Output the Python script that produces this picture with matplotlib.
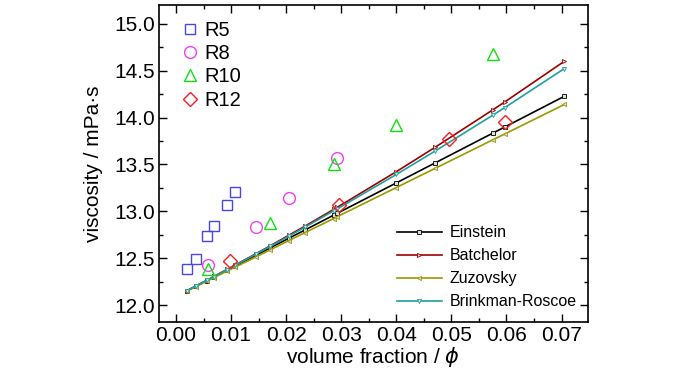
import matplotlib
matplotlib.use("Agg")
import matplotlib.pyplot as plt
from matplotlib.ticker import MultipleLocator

plt.rcParams['font.family'] = ['Liberation Sans', 'DejaVu Sans']
plt.rcParams['mathtext.fontset'] = 'dejavusans'

# Measured data
r5_x = [0.0020, 0.0036, 0.0056, 0.0069, 0.0093, 0.0107]
r5_y = [12.39, 12.49, 12.74, 12.84, 13.07, 13.21]
r8_x = [0.0058, 0.0146, 0.0205, 0.0293]
r8_y = [12.43, 12.83, 13.14, 13.57]
r10_x = [0.0058, 0.0171, 0.0286, 0.0400, 0.0575]
r10_y = [12.39, 12.88, 13.50, 13.92, 14.68]
r12_x = [0.0098, 0.0296, 0.0495, 0.0597]
r12_y = [12.47, 13.07, 13.77, 13.95]

# Model curves
model_x = [0.0020, 0.0036, 0.0056, 0.0069, 0.0093, 0.0107, 0.0146, 0.0171, 0.0205,
           0.0234, 0.0286, 0.0293, 0.0400, 0.0470, 0.0575, 0.0597, 0.0705]
einstein_y = [12.154, 12.203, 12.263, 12.303, 12.375, 12.418, 12.535, 12.611, 12.714,
              12.801, 12.959, 12.980, 13.303, 13.515, 13.833, 13.899, 14.226]
batchelor_y = [12.154, 12.204, 12.265, 12.307, 12.382, 12.427, 12.551, 12.633, 12.746,
               12.842, 13.020, 13.044, 13.423, 13.681, 14.081, 14.166, 14.599]
zuzovsky_y = [12.152, 12.198, 12.256, 12.294, 12.364, 12.404, 12.517, 12.590, 12.689,
              12.773, 12.923, 12.944, 13.254, 13.457, 13.762, 13.825, 14.139]
br_y = [12.154, 12.204, 12.265, 12.306, 12.380, 12.424, 12.547, 12.627, 12.736,
        12.831, 13.005, 13.027, 13.393, 13.641, 14.024, 14.106, 14.521]

xticks = [0.00, 0.01, 0.02, 0.03, 0.04, 0.05, 0.06, 0.07]
yticks = [12.0, 12.5, 13.0, 13.5, 14.0, 14.5, 15.0]

fig = plt.figure(figsize=(7, 3.75), dpi=100)
ax = fig.add_axes([0.227, 0.141, 0.613, 0.846])

lw = 1.2
ms_l = 3.0
h_e, = ax.plot(model_x, einstein_y, color='black', lw=lw, marker='s', ms=ms_l,
               mfc='#dddddd', mec='black', mew=0.6, label='Einstein')
h_b, = ax.plot(model_x, batchelor_y, color='#a00000', lw=lw, marker='>', ms=ms_l,
               mfc='#dddddd', mec='#a00000', mew=0.6, label='Batchelor')
h_z, = ax.plot(model_x, zuzovsky_y, color='#999900', lw=lw, marker='<', ms=ms_l,
               mfc='#dddddd', mec='#999900', mew=0.6, label='Zuzovsky')
h_r, = ax.plot(model_x, br_y, color='#1fa0a0', lw=lw, marker='v', ms=ms_l,
               mfc='#dddddd', mec='#1fa0a0', mew=0.6, label='Brinkman-Roscoe')

ms = 8.5
mew = 1.0
h5, = ax.plot(r5_x, r5_y, ls='none', marker='s', ms=ms - 1, mfc='none', mec='#4848e0', mew=mew, label='R5')
h8, = ax.plot(r8_x, r8_y, ls='none', marker='o', ms=ms, mfc='none', mec='#f040f0', mew=mew, label='R8')
h10, = ax.plot(r10_x, r10_y, ls='none', marker='^', ms=ms + 0.5, mfc='none', mec='#10e010', mew=mew, label='R10')
h12, = ax.plot(r12_x, r12_y, ls='none', marker='D', ms=ms - 1, mfc='none', mec='#f02020', mew=mew, label='R12')

ax.set_xlim(-0.0031, 0.0748)
ax.set_ylim(11.82, 15.2)
ax.set_xticks(xticks)
ax.set_yticks(yticks)
ax.set_xticklabels([f"{v:.2f}" for v in xticks])
ax.set_yticklabels([f"{v:.1f}" for v in yticks])
ax.xaxis.set_minor_locator(MultipleLocator(0.005))
ax.yaxis.set_minor_locator(MultipleLocator(0.25))
ax.tick_params(which='both', direction='in', top=True, right=True, width=1.0)
ax.tick_params(which='major', length=6, labelsize=15, pad=3)
ax.tick_params(which='minor', length=3)
for s in ax.spines.values():
    s.set_linewidth(1.2)

ax.set_xlabel(r'volume fraction / $\phi$', fontsize=15, labelpad=0)
ax.set_ylabel('viscosity / mPa·s', fontsize=15, labelpad=8)

leg1 = ax.legend(handles=[h5, h8, h10, h12], loc='upper left', frameon=False,
                 fontsize=14.5, handlelength=0.8, handletextpad=0.35, labelspacing=0.22,
                 borderaxespad=0.3, bbox_to_anchor=(0.02, 0.995))
ax.add_artist(leg1)
ax.legend(handles=[h_e, h_b, h_z, h_r], loc='lower right', frameon=False,
          fontsize=11.5, handlelength=2.8, handletextpad=0.5, labelspacing=0.5,
          borderaxespad=0.3, bbox_to_anchor=(1.0, 0.005))

fig.savefig('out.png', dpi=100)
